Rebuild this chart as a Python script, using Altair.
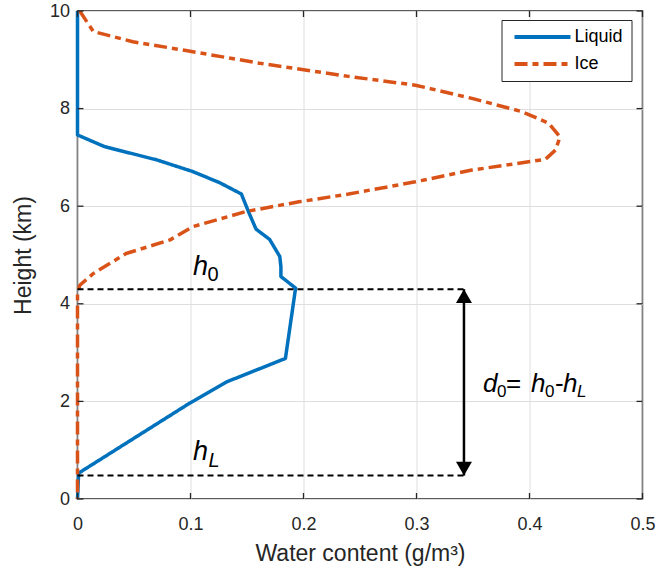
import altair as alt
import pandas as pd

# ---- data ----
liquid_x = [0.000, 0.000, 0.024, 0.070, 0.102, 0.126, 0.145, 0.152, 0.158, 0.170, 0.179, 0.180, 0.180, 0.193, 0.184, 0.132, 0.099, 0.001, 0.000]
liquid_y = [10.0, 7.46, 7.22, 6.95, 6.71, 6.48, 6.25, 5.85, 5.53, 5.32, 4.97, 4.76, 4.56, 4.32, 2.88, 2.40, 1.96, 0.53, 0.00]

ice_x = [0.002, 0.014, 0.049, 0.096, 0.161, 0.240, 0.299, 0.349, 0.393, 0.417, 0.427, 0.423, 0.414, 0.349, 0.299, 0.240, 0.196, 0.149, 0.102, 0.082, 0.043, 0.014, 0.002, 0.000, 0.000]
ice_y = [10.0, 9.58, 9.37, 9.19, 8.93, 8.66, 8.48, 8.21, 7.94, 7.70, 7.42, 7.15, 6.96, 6.74, 6.50, 6.25, 6.09, 5.89, 5.58, 5.31, 5.03, 4.62, 4.38, 4.20, 0.00]

series_names = ["Liquid", "Ice"]
series_colors = ["#0072BD", "#D95319"]

x_ticks = [0, 0.1, 0.2, 0.3, 0.4, 0.5]
y_ticks = [0, 2, 4, 6, 8, 10]

h0 = 4.30
hL = 0.48
arrow_x = 0.342

# annotation pieces: text, x, y (data units), font size, italic?
ann_text = ["h", "0", "h", "L", "d", "0", "=", "h", "0", "-", "h", "L"]
ann_x = [0.1022, 0.1150, 0.1022, 0.1160, 0.3588, 0.3712, 0.3792, 0.4013, 0.4137, 0.4226, 0.4296, 0.4420]
ann_y = [4.59, 4.46, 0.80, 0.66, 2.19, 2.10, 2.19, 2.19, 2.10, 2.19, 2.19, 2.10]
ann_size = [27, 20, 27, 20, 26, 17, 26, 26, 17, 26, 26, 17]
ann_italic = [True, False, True, True, True, False, False, True, False, False, True, True]

W, H = 565, 488
FONT = "Liberation Sans"
TXT = "#262626"

# ---- tables ----
rows = []
for i, (x, y) in enumerate(zip(liquid_x, liquid_y)):
    rows.append({"series": "Liquid", "x": x, "y": y, "i": i})
for i, (x, y) in enumerate(zip(ice_x, ice_y)):
    rows.append({"series": "Ice", "x": x, "y": y, "i": i})
curves = pd.DataFrame(rows)

hlines = pd.DataFrame({"y": [h0, hL], "x0": [0, 0], "x1": [arrow_x, arrow_x]})
arrow = pd.DataFrame({"x": [arrow_x], "y": [hL], "y2": [h0]})
ann = pd.DataFrame({"t": ann_text, "x": ann_x, "y": ann_y, "s": ann_size, "it": ann_italic})
xt = pd.DataFrame({"v": x_ticks})
yt = pd.DataFrame({"v": y_ticks})

xs = alt.Scale(domain=[0, 0.5], nice=False, zero=False)
ys = alt.Scale(domain=[0, 10], nice=False, zero=False)

leg = alt.Legend(title=None, orient="none", legendX=424, legendY=9,
                 strokeColor=TXT, fillColor="white", padding=8,
                 labelFont=FONT, labelFontSize=18, labelColor="#000000",
                 symbolType="M-4,0H4", symbolSize=196, symbolStrokeWidth=4,
                 symbolOffset=24, labelOffset=23, rowPadding=9, cornerRadius=0)

lines = alt.Chart(curves).mark_line(strokeWidth=3.5, strokeCap="butt", strokeJoin="round").encode(
    x=alt.X("x:Q", scale=xs,
            axis=alt.Axis(values=x_ticks, format="~g", title="Water content (g/m³)",
                          labelFlush=False, labelOverlap=False, labelPadding=16, titlePadding=9)),
    y=alt.Y("y:Q", scale=ys,
            axis=alt.Axis(values=y_ticks, format="d", title="Height (km)",
                          labelFlush=False, labelOverlap=False, labelPadding=8, titlePadding=14)),
    color=alt.Color("series:N", scale=alt.Scale(domain=series_names, range=series_colors), legend=leg),
    strokeDash=alt.StrokeDash("series:N", scale=alt.Scale(domain=series_names, range=[[1, 0], [13, 5, 6, 5]]), legend=leg),
    order="i:Q",
    detail="series:N",
)

hl = alt.Chart(hlines).mark_rule(color="black", strokeWidth=2, strokeDash=[6, 4]).encode(
    x=alt.X("x0:Q", scale=xs), x2="x1:Q", y=alt.Y("y:Q", scale=ys)
)

arr = alt.Chart(arrow).mark_rule(color="black", strokeWidth=2.5).encode(
    x=alt.X("x:Q", scale=xs), y=alt.Y("y:Q", scale=ys), y2="y2:Q"
)
head_up = alt.Chart(arrow).mark_point(shape="triangle-up", filled=True, color="black", size=256, opacity=1, yOffset=7).encode(
    x=alt.X("x:Q", scale=xs), y=alt.Y("y2:Q", scale=ys)
)
head_down = alt.Chart(arrow).mark_point(shape="triangle-down", filled=True, color="black", size=256, opacity=1, yOffset=-7).encode(
    x=alt.X("x:Q", scale=xs), y=alt.Y("y:Q", scale=ys)
)

def text_layer(italic):
    return alt.Chart(ann).transform_filter(
        alt.datum.it == italic
    ).mark_text(font=FONT, fontStyle="italic" if italic else "normal", align="left",
                baseline="alphabetic", color="black").encode(
        x=alt.X("x:Q", scale=xs), y=alt.Y("y:Q", scale=ys),
        text="t:N", size=alt.Size("s:Q", scale=None, legend=None)
    )

tick_style = dict(color=TXT, strokeWidth=1.3)
tb = alt.Chart(xt).mark_rule(**tick_style).encode(x=alt.X("v:Q", scale=xs), y=alt.value(H), y2=alt.value(H - 6))
tt = alt.Chart(xt).mark_rule(**tick_style).encode(x=alt.X("v:Q", scale=xs), y=alt.value(0), y2=alt.value(6))
tl = alt.Chart(yt).mark_rule(**tick_style).encode(y=alt.Y("v:Q", scale=ys), x=alt.value(0), x2=alt.value(6))
tr = alt.Chart(yt).mark_rule(**tick_style).encode(y=alt.Y("v:Q", scale=ys), x=alt.value(W), x2=alt.value(W - 6))

chart = alt.layer(
    lines, hl, arr, head_up, head_down, text_layer(True), text_layer(False), tb, tt, tl, tr
).properties(
    width=W, height=H, autosize="none",
    padding={"left": 77.5, "top": 11, "right": 27.5, "bottom": 72},
    background="white",
).configure_axis(
    grid=True, gridColor="#dedede", gridWidth=1, ticks=False, domain=False,
    labelFont=FONT, labelFontSize=18, labelColor=TXT,
    titleFont=FONT, titleFontSize=23, titleFontWeight="normal", titleColor=TXT,
).configure_view(stroke=TXT, strokeWidth=1.5)

chart.save("out.html", embed_options={"renderer": "svg", "actions": False})
